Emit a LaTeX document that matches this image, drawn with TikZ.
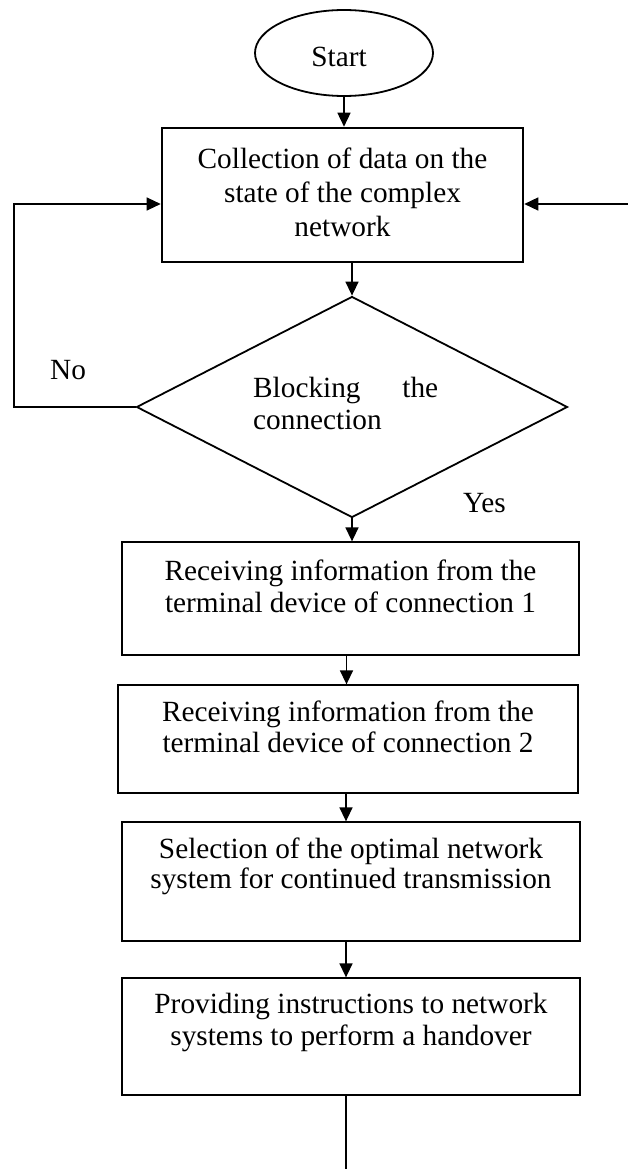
\documentclass[tikz,border=0pt]{standalone}
\usepackage{fontspec}
\setmainfont{Liberation Serif}
\usetikzlibrary{arrows.meta, shapes.geometric}
\newcommand{\lines}[2]{\fontsize{29.3}{#1}\selectfont\begin{tabular}[t]{@{}c@{}}#2\end{tabular}}
\begin{document}
\begin{tikzpicture}[x=1pt,y=-1pt,
  conn/.style={line width=1.5pt, -{Triangle[length=14pt,width=13pt]}},
  plain/.style={line width=1.5pt},
  fback/.style={line width=1.2pt, -{Triangle[length=14pt,width=13pt]}},
  procbox/.style={draw, line width=1.3pt, inner sep=0pt, shape=rectangle},
  txt/.style={inner sep=0pt, font=\fontsize{29.3}{32}\selectfont},
]
\useasboundingbox (0,0) rectangle (628,1169);

% shapes
\node[draw, ellipse, line width=1.8pt, inner sep=0pt, minimum width=178pt, minimum height=86pt] (start) at (344,53) {};
\node[procbox, line width=2.6pt, minimum width=361pt, minimum height=134pt] (box0) at (342.5,195) {};
\node[draw, diamond, line width=1.8pt, inner sep=0pt, minimum width=431pt, minimum height=221pt] (dia) at (352,407) {};
\node[procbox, minimum width=457pt, minimum height=113pt] (box1) at (350.5,598.5) {};
\node[procbox, minimum width=460pt, minimum height=108pt] (box2) at (348,739) {};
\node[procbox, minimum width=458pt, minimum height=119pt] (box3) at (351,881.5) {};
\node[procbox, minimum width=458pt, minimum height=117pt] (box4) at (351,1036.5) {};

% texts
\node[txt, anchor=base] (tstart) at (339,67) {Start};
\node[txt, anchor=base] (t0) at (342.5,168) {\lines{34}{Collection of data on the\\state of the complex\\network}};
\node[txt, anchor=base west] (tdia) at (253,397) {\fontsize{29.3}{32}\selectfont\begin{tabular}[t]{@{}l@{}}\makebox[185pt][s]{Blocking\hfill the}\\connection\end{tabular}};
\node[txt, anchor=base west] (tno) at (50,379) {No};
\node[txt, anchor=base west] (tyes) at (463,512) {Yes};
\node[txt, anchor=base] (t1) at (350.5,580) {\lines{32}{Receiving information from the\\terminal device of connection 1}};
\node[txt, anchor=base] (t2) at (348,721) {\lines{31}{Receiving information from the\\terminal device of connection 2}};
\node[txt, anchor=base] (t3) at (351,858) {\lines{30}{Selection of the optimal network\\system for continued transmission}};
\node[txt, anchor=base] (t4) at (351,1013) {\lines{32}{Providing instructions to network\\systems to perform a handover}};

% connectors
\coordinate (fbcorner) at (14,407);
\coordinate (rin) at (628,204);
\coordinate (fin) at (346,1169);
\draw[conn] (start.south) -- (start.south |- box0.north);
\draw[fback] (dia.west) -- (fbcorner) |- ([yshift=-9pt]box0.west);
\draw[conn] (rin) -- ([yshift=-9pt]box0.east);
\draw[conn] (dia.north |- box0.south) -- (dia.north);
\draw[conn] (dia.south) -- (dia.south |- box1.north);
\draw[conn] ([xshift=-4pt]box1.south) -- ([xshift=-4pt]box1.south |- box2.north);
\draw[conn] ([xshift=-2pt]box2.south) -- ([xshift=-2pt]box2.south |- box3.north);
\draw[conn] ([xshift=-5pt]box3.south) -- ([xshift=-5pt]box3.south |- box4.north);
\draw[plain] ([xshift=-5pt]box4.south) -- (fin);
\end{tikzpicture}
\end{document}
